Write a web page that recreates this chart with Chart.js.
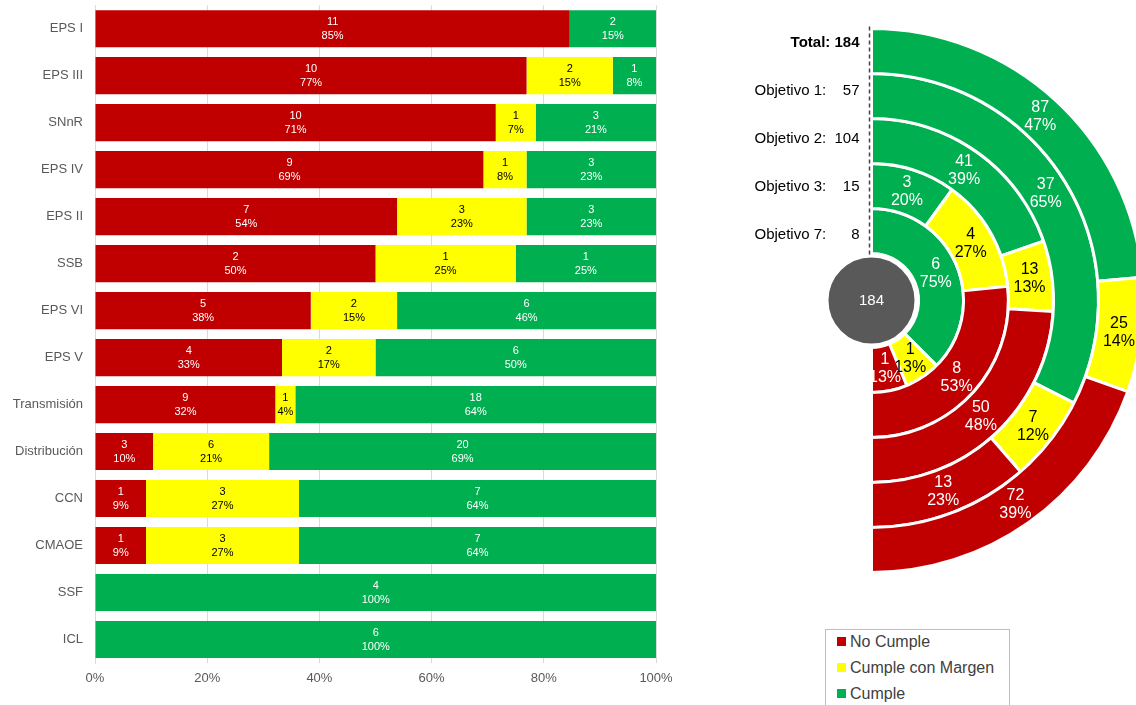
<!DOCTYPE html>
<html>
<head>
<meta charset="utf-8">
<script src="https://cdn.jsdelivr.net/npm/chart.js@4/dist/chart.umd.min.js"></script>
<style>
  body { margin: 0; width: 1136px; height: 705px; overflow: hidden; background: #fff; position: relative;
         font-family: "Liberation Sans", Arial, sans-serif; }
  #barWrap { position: absolute; left: 0; top: 0; width: 690px; height: 705px; }
  #polarWrap { position: absolute; left: 700px; top: 0; width: 450px; height: 620px; }
  #leyenda { position: absolute; left: 825px; top: 629px; width: 185px; height: 90px; border: 1px solid #bfbfbf;
             box-sizing: border-box; padding: 0 0 0 11px; font-size: 16px; color: #404040; }
  #leyenda div { height: 26px; line-height: 24px; }
  #leyenda span { display: inline-block; width: 9px; height: 9px; margin-right: 4px; vertical-align: 1px; }
</style>
</head>
<body>
<div id="barWrap"><canvas id="barras"></canvas></div>
<div id="polarWrap"><canvas id="anillos"></canvas></div>
<div id="leyenda"></div>
<script>
// ---- datos: barras por unidad ----
const categorias = ['EPS I', 'EPS III', 'SNnR', 'EPS IV', 'EPS II', 'SSB', 'EPS VI', 'EPS V',
                    'Transmisión', 'Distribución', 'CCN', 'CMAOE', 'SSF', 'ICL'];
const noCumple = [11, 10, 10, 9, 7, 2, 5, 4, 9, 3, 1, 1, 0, 0];
const conMargen = [0, 2, 1, 1, 3, 1, 2, 2, 1, 6, 3, 3, 0, 0];
const cumple = [2, 1, 3, 3, 3, 1, 6, 6, 18, 20, 7, 7, 4, 6];
const ticksX = ['0%', '20%', '40%', '60%', '80%', '100%'];

// ---- datos: anillos por objetivo (Cumple, Cumple con Margen, No Cumple) ----
const objetivos = ['Total', 'Objetivo 1', 'Objetivo 2', 'Objetivo 3', 'Objetivo 7'];
const anilloCumple = [87, 37, 41, 3, 6];
const anilloMargen = [25, 7, 13, 4, 1];
const anilloNoCumple = [72, 13, 50, 8, 1];

const series = ['No Cumple', 'Cumple con Margen', 'Cumple'];
const colores = ['#C00000', '#FFFF00', '#00B050'];

const fuente = '"Liberation Sans", Arial, sans-serif';
Chart.defaults.font.family = fuente;

// leyenda html
document.getElementById('leyenda').innerHTML = series.map((s, i) =>
  '<div><span style="background:' + colores[i] + '"></span>' + s + '</div>').join('');

// ---- grafico de barras 100% ----
const totales = categorias.map((c, i) => noCumple[i] + conMargen[i] + cumple[i]);
const aPct = arr => arr.map((v, i) => v / totales[i] * 100);

const etiquetasBarras = {
  id: 'etiquetasBarras',
  afterDatasetsDraw(chart) {
    const ctx = chart.ctx;
    ctx.save();
    ctx.font = '11px ' + fuente;
    ctx.textAlign = 'center';
    ctx.textBaseline = 'middle';
    chart.data.datasets.forEach((ds, d) => {
      chart.getDatasetMeta(d).data.forEach((bar, i) => {
        const n = ds.cuentas[i];
        if (!n) return;
        const cx = (bar.x + bar.base) / 2;
        ctx.fillStyle = d === 1 ? '#000' : '#fff';
        ctx.fillText(n, cx, bar.y - 7);
        ctx.fillText(Math.round(ds.data[i]) + '%', cx, bar.y + 7);
      });
    });
    ctx.restore();
  }
};

new Chart(document.getElementById('barras'), {
  type: 'bar',
  data: {
    labels: categorias,
    datasets: [
      { label: series[0], data: aPct(noCumple), cuentas: noCumple, backgroundColor: colores[0] },
      { label: series[1], data: aPct(conMargen), cuentas: conMargen, backgroundColor: colores[1] },
      { label: series[2], data: aPct(cumple), cuentas: cumple, backgroundColor: colores[2] }
    ]
  },
  options: {
    indexAxis: 'y',
    responsive: true,
    maintainAspectRatio: false,
    animation: false,
    layout: { padding: { top: 5, right: 34, bottom: 0, left: 0 } },
    datasets: { bar: { categoryPercentage: 0.79, barPercentage: 1 } },
    plugins: { legend: { display: false }, tooltip: { enabled: false } },
    scales: {
      x: {
        stacked: true, min: 0, max: 100,
        ticks: { stepSize: 20, callback: (v, i) => ticksX[i], color: '#595959', font: { size: 13 }, padding: 8 },
        grid: { color: '#d9d9d9', drawTicks: false },
        border: { display: false },
        afterFit: s => { s.height = 42; }
      },
      y: {
        stacked: true,
        ticks: { color: '#595959', font: { size: 13, lineHeight: 0.8 }, padding: 0 },
        grid: { display: false, tickLength: 12 },
        border: { color: '#d9d9d9' },
        afterFit: s => { s.width = 95; }
      }
    }
  },
  plugins: [etiquetasBarras]
});

// ---- grafico de anillos (media dona) ----
const anillos = objetivos.map((o, i) => ({
  label: o,
  data: [anilloCumple[i], anilloMargen[i], anilloNoCumple[i]],
  backgroundColor: [colores[2], colores[1], colores[0]],
  borderColor: '#fff',
  borderWidth: 3
}));

const extrasAnillos = {
  id: 'extrasAnillos',
  afterDatasetsDraw(chart) {
    const ctx = chart.ctx;
    const arco0 = chart.getDatasetMeta(0).data[0];
    const cx = arco0.x, cy = arco0.y;
    ctx.save();

    // etiquetas dentro de cada arco
    ctx.font = '16px ' + fuente;
    ctx.textAlign = 'center';
    ctx.textBaseline = 'middle';
    chart.data.datasets.forEach((ds, d) => {
      const total = ds.data.reduce((a, b) => a + b, 0);
      chart.getDatasetMeta(d).data.forEach((arc, i) => {
        const p = arc.getCenterPoint();
        ctx.fillStyle = i === 1 ? '#000' : '#fff';
        ctx.fillText(ds.data[i], p.x, p.y - 9);
        ctx.fillText(Math.round(ds.data[i] / total * 100) + '%', p.x, p.y + 9);
      });
    });

    // linea discontinua
    const rExt = arco0.outerRadius;
    ctx.strokeStyle = '#4a4040';
    ctx.lineWidth = 1.5;
    ctx.setLineDash([4, 3]);
    ctx.beginPath();
    ctx.moveTo(cx - 2, cy - rExt - 2);
    ctx.lineTo(cx - 2, cy - 46);
    ctx.stroke();
    ctx.setLineDash([]);

    // circulo central
    const totalGeneral = chart.data.datasets[0].data.reduce((a, b) => a + b, 0);
    ctx.beginPath();
    ctx.arc(cx, cy, 44, 0, Math.PI * 2);
    ctx.fillStyle = '#595959';
    ctx.fill();
    ctx.lineWidth = 2;
    ctx.strokeStyle = '#fff';
    ctx.stroke();
    ctx.fillStyle = '#fff';
    ctx.font = '15px ' + fuente;
    ctx.fillText(totalGeneral, cx, cy);

    // nombres de los objetivos a la izquierda
    ctx.textBaseline = 'middle';
    chart.data.datasets.forEach((ds, d) => {
      const arc = chart.getDatasetMeta(d).data[0];
      const y = cy - arc.outerRadius + 14 + d * 3;
      const total = ds.data.reduce((a, b) => a + b, 0);
      ctx.fillStyle = '#000';
      if (d === 0) {
        ctx.font = 'bold 15px ' + fuente;
        ctx.textAlign = 'right';
        ctx.fillText(ds.label + ': ' + total, cx - 12, y);
      } else {
        ctx.font = '15px ' + fuente;
        ctx.textAlign = 'left';
        ctx.fillText(ds.label + ':', cx - 117, y);
        ctx.textAlign = 'right';
        ctx.fillText(total, cx - 12, y);
      }
    });
    ctx.restore();
  }
};

new Chart(document.getElementById('anillos'), {
  type: 'doughnut',
  data: { labels: [series[2], series[1], series[0]], datasets: anillos },
  options: {
    responsive: true,
    maintainAspectRatio: false,
    animation: false,
    rotation: 0,
    circumference: 180,
    cutout: '17.3%',
    layout: { padding: { top: 27, left: 170, right: 5, bottom: 46 } },
    plugins: { legend: { display: false }, tooltip: { enabled: false } }
  },
  plugins: [extrasAnillos]
});
</script>
</body>
</html>
